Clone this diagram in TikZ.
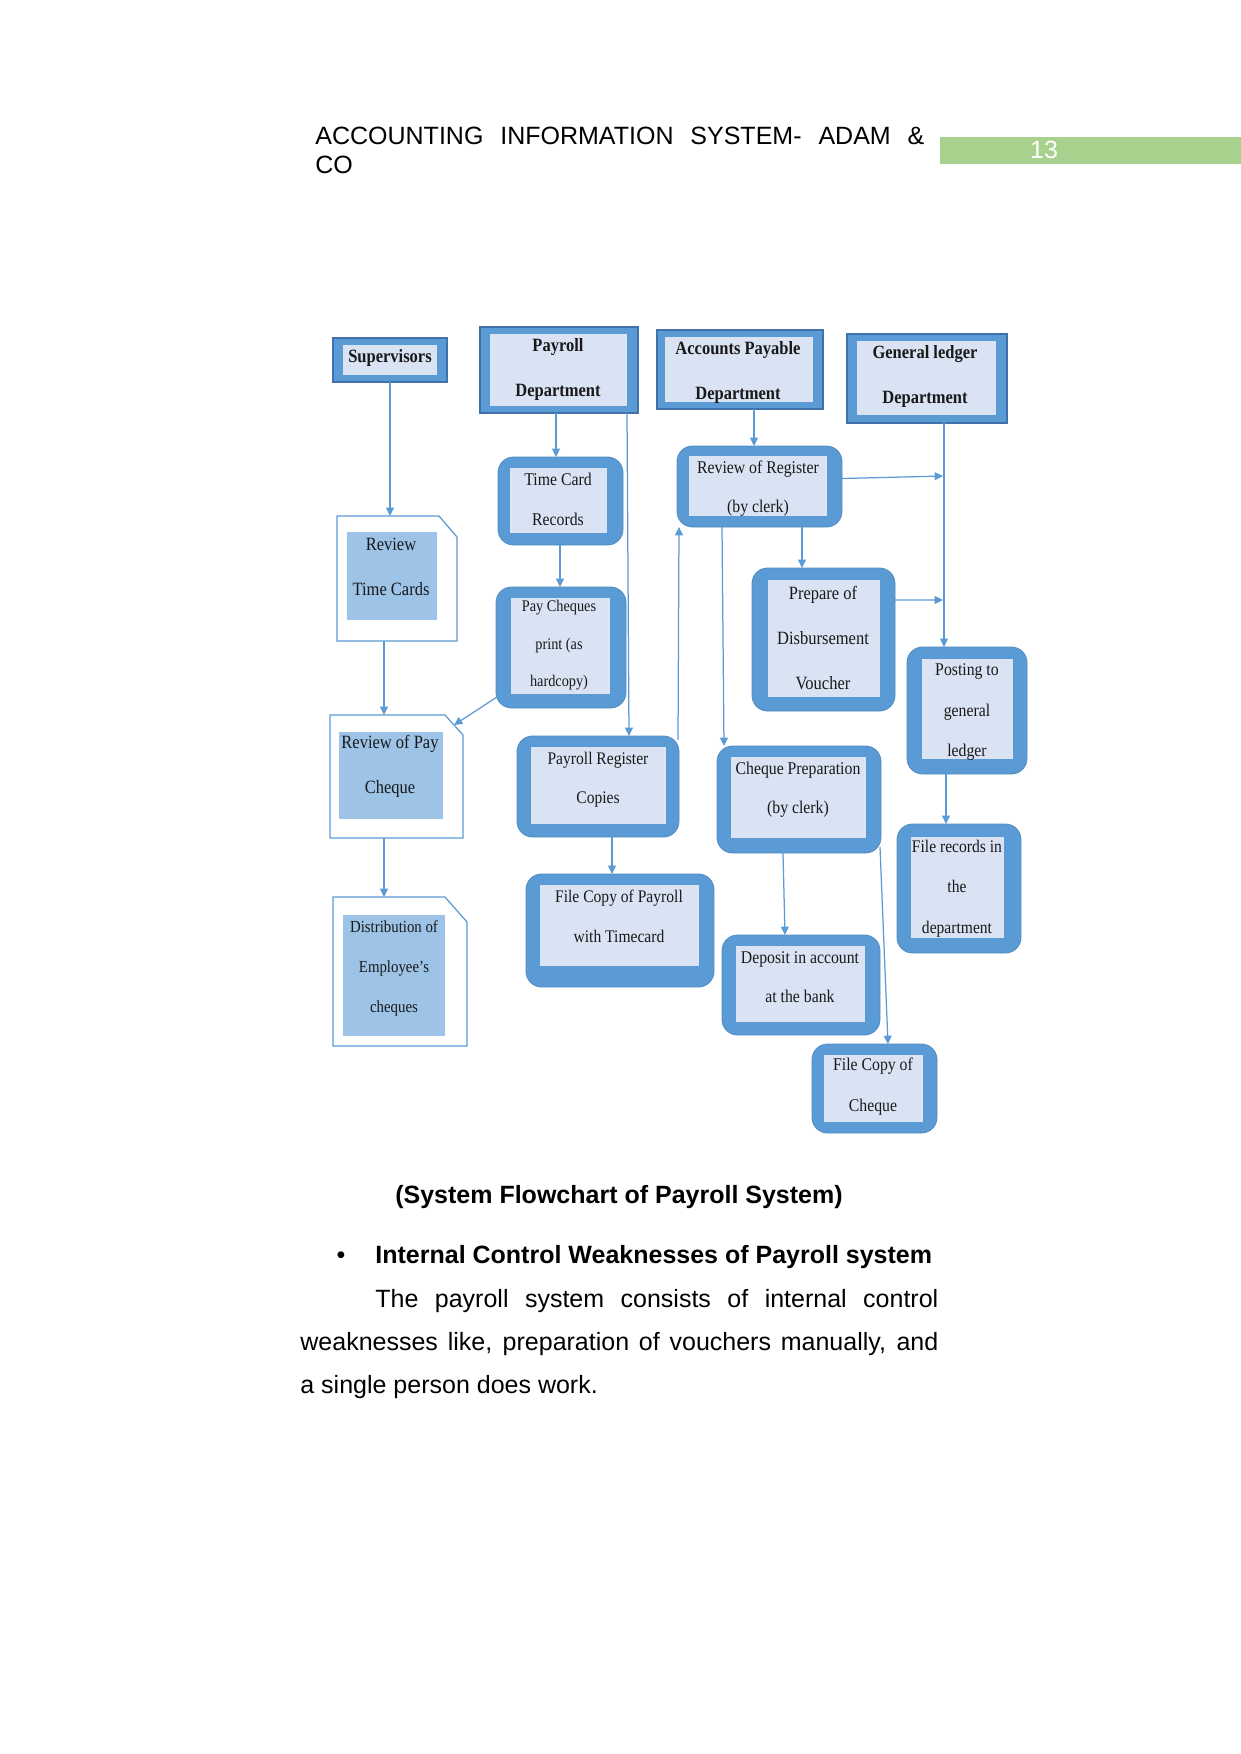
\documentclass[tikz,border=0pt]{standalone}
\usepackage{fontspec}
\setmainfont{Liberation Sans}
\newfontfamily\bxfont[FakeStretch=0.88]{Liberation Serif}
\usetikzlibrary{arrows.meta,calc}
\definecolor{bdr}{RGB}{91,155,213}
\definecolor{bdrdk}{RGB}{65,113,170}
\definecolor{innr}{RGB}{218,227,243}
\definecolor{docin}{RGB}{157,195,230}
\definecolor{hgreen}{RGB}{169,209,142}
\tikzset{
  sz/.style 2 args={minimum width=#1*0.48pt, minimum height=#2*0.48pt},
  ins/.style n args={4}{path picture={\fill[innr, sharp corners] ([xshift=#1*0.48pt,yshift=-#2*0.48pt]path picture bounding box.north west) rectangle ([xshift=-#3*0.48pt,yshift=#4*0.48pt]path picture bounding box.south east);}},
  dins/.style n args={4}{path picture={\fill[docin, sharp corners] ([xshift=#1*0.48pt,yshift=-#2*0.48pt]path picture bounding box.north west) rectangle ([xshift=-#3*0.48pt,yshift=#4*0.48pt]path picture bounding box.south east);}},
  sqbox/.style={rectangle, inner sep=0pt, outer sep=0pt, fill=bdr, draw=bdrdk, line width=0.5pt},
  rbox/.style={rectangle, rounded corners=7.5pt, inner sep=0pt, outer sep=0pt, fill=bdr, draw=bdr!90!black, line width=0.4pt},
  docbox/.style={rectangle, inner sep=0pt, outer sep=0pt, fill=white},
  docline/.style={draw=bdr, line width=0.6pt},
  tx/.style 2 args={align=center, inner sep=0pt, text=black!90, font={\bxfont\fontsize{#1}{#2}\selectfont}},
  txb/.style 2 args={align=center, inner sep=0pt, text=black!90, font={\bxfont\bfseries\fontsize{#1}{#2}\selectfont}},
  arr/.style={draw=bdr, line width=0.6pt, -{Triangle[length=4pt,width=3.8pt]}},
  body/.style={inner sep=0pt, font={\fontsize{12}{14}\selectfont}},
  bodyb/.style={inner sep=0pt, font={\fontsize{12}{14}\selectfont\bfseries}}
}
\begin{document}
\begin{tikzpicture}[x=0.48pt,y=-0.48pt]
\useasboundingbox (0,0) rectangle (1241,1754);

% header
\node[body, anchor=base west] (h1) at (315,144) {\makebox[292.3pt][s]{ACCOUNTING INFORMATION SYSTEM- ADAM \&}};
\node[body, anchor=base west] (h2) at (315,173) {CO};
\node[fill=hgreen, inner sep=0pt, anchor=north west, sz={301}{27}] (bar) at (940,136.5) {};
\node[body, text=white] (pnum) at (1044,150) {13};

% square header boxes
\node[sqbox, sz={114}{44}, ins={10}{7}{10}{7}] (sup) at (390,360) {};
\node[sqbox, sz={158}{86}, ins={10}{7}{11}{7}] (pay) at (559,370) {};
\node[sqbox, sz={166}{79}, ins={8}{7}{10}{7}] (ap) at (740,369.5) {};
\node[sqbox, sz={160}{89}, ins={10}{7}{11}{8}] (gl) at (927,378.5) {};

% rounded process boxes
\node[rbox, sz={125}{88}, ins={12}{11}{16}{12}] (tc) at (560.5,501) {};
\node[rbox, sz={130}{121}, ins={15}{11}{16}{14}] (pc) at (561,647.5) {};
\node[rbox, sz={165}{81}, ins={12}{10}{15}{11}] (rr) at (759.5,486.5) {};
\node[rbox, sz={143}{143}, ins={16}{12}{15}{14}] (dv) at (823.5,639.5) {};
\node[rbox, sz={162}{101}, ins={14}{11}{13}{13}] (pr) at (598,786.5) {};
\node[rbox, sz={164}{107}, ins={14}{11}{15}{15}] (cp) at (799,799.5) {};
\node[rbox, sz={120}{127}, ins={15}{12}{14}{15}] (pg) at (967,710.5) {};
\node[rbox, sz={124}{129}, ins={14}{13}{17}{15}] (fr) at (959,888.5) {};
\node[rbox, sz={188}{113}, ins={14}{11}{15}{21}] (fp) at (620,930.5) {};
\node[rbox, sz={158}{100}, ins={14}{11}{15}{13}] (dep) at (801,985) {};
\node[rbox, sz={125}{89}, ins={12}{11}{14}{11}] (fc) at (874.5,1088.5) {};

% document boxes
\node[docbox, sz={120}{125}, dins={10}{16}{20}{21}] (rtc) at (397,578.5) {};
\draw[docline] (rtc.south west) |- ($(rtc.north east)+(-18,0)$) -- ($(rtc.north east)+(0,21)$) -- (rtc.south east) -- cycle;
\node[docbox, sz={133}{123}, dins={9}{17}{20}{19}] (rpc) at (396.5,776.5) {};
\draw[docline] (rpc.south west) |- ($(rpc.north east)+(-18,0)$) -- ($(rpc.north east)+(0,20)$) -- (rpc.south east) -- cycle;
\node[docbox, sz={134}{149}, dins={10}{18}{22}{10}] (dist) at (400,971.5) {};
\draw[docline] (dist.south west) |- ($(dist.north east)+(-22,0)$) -- ($(dist.north east)+(0,25)$) -- (dist.south east) -- cycle;

% texts
\node[txb={9}{21.6}] (sup-t) at (390,358) {Supervisors};
\node[txb={9}{21.6}] (pay-t) at (558,369.5) {Payroll\\Department};
\node[txb={9}{21.6}] (ap-t) at (738,372) {Accounts Payable\\Department};
\node[txb={9}{21.6}] (gl-t) at (925,376) {General ledger\\Department};
\node[tx={8.6}{19.2}] (tc-t) at (558,499) {Time Card\\Records};
\node[tx={8.6}{18.7}] (rr-t) at (758,488.5) {Review of Register\\(by clerk)};
\node[tx={9}{21.6}] (rtc-t) at (391,567) {Review\\Time Cards};
\node[tx={7.8}{18}] (pc-t) at (559,645.5) {Pay Cheques\\print (as\\hardcopy)};
\node[tx={9}{21.6}] (dv-t) at (823,638.5) {Prepare of\\Disbursement\\Voucher};
\node[tx={8.6}{19.4}] (pg-t) at (967,712) {Posting to\\general\\ledger};
\node[tx={9}{21.6}] (rpc-t) at (390,766.5) {Review of Pay\\Cheque};
\node[tx={8.5}{18.7}] (pr-t) at (598,779.5) {Payroll Register\\Copies};
\node[tx={8.6}{18.7}] (cp-t) at (798,789.5) {Cheque Preparation\\(by clerk)};
\node[tx={8.5}{19.4}] (fr-t) at (957,888.5) {File records in\\the\\department};
\node[tx={8.1}{19.2}] (dist-t) at (394,968) {Distribution of\\Employee’s\\cheques};
\node[tx={8.5}{19}] (fp-t) at (619,916.5) {File Copy of Payroll\\with Timecard};
\node[tx={8.6}{18.7}] (dep-t) at (800,977) {Deposit in account\\at the bank};
\node[tx={8.6}{19.4}] (fc-t) at (873,1086.5) {File Copy of\\Cheque};

% junction points on the general ledger line
\coordinate (j1) at ($(gl.south west)+(96,53)$);
\coordinate (j2) at ($(gl.south west)+(96,177)$);

% connectors
\draw[arr] (sup.south) -- (sup.south |- rtc.north);
\draw[arr] ($(pay.south west)+(76,0)$) -- ($(tc.north west)+(58,0)$);
\draw[arr] ($(tc.south west)+(62,0)$) -- ($(pc.north west)+(64,0)$);
\draw[arr] ($(pc.south west)+(1,-11)$) -- ($(rpc.north east)+(-9,10)$);
\draw[arr] ($(pay.south east)+(-11,0)$) -- ($(pr.north west)+(112,0)$);
\draw[arr] ($(pr.north east)+(-1,4)$) -- ($(rr.south west)+(2,0)$);
\draw[arr] ($(rr.south west)+(45,0)$) -- ($(cp.north west)+(7,0)$);
\draw[arr] ($(ap.south west)+(97,0)$) -- ($(rr.north west)+(77,0)$);
\draw[arr] ($(rr.east)+(0,-8)$) -- (j1);
\draw[arr] ($(gl.south west)+(97,0)$) -- ($(pg.north west)+(37,0)$);
\draw[arr] ($(rr.south west)+(125,0)$) -- ($(dv.north west)+(50,0)$);
\draw[arr] ($(dv.north east)+(0,32)$) -- (j2);
\draw[arr] ($(pg.south west)+(39,0)$) -- ($(fr.north west)+(49,0)$);
\draw[arr] ($(rtc.south west)+(47,0)$) -- ($(rpc.north west)+(54,0)$);
\draw[arr] ($(rpc.south west)+(54,0)$) -- ($(dist.north west)+(51,0)$);
\draw[arr] ($(pr.south west)+(95,0)$) -- ($(fp.north west)+(86,0)$);
\draw[arr] ($(cp.south west)+(66,0)$) -- ($(dep.north west)+(63,0)$);
\draw[arr] ($(cp.south east)+(-1,-6)$) -- ($(fc.north west)+(76,0)$);

% caption and text
\node[bodyb, anchor=base] (cap) at (619,1203) {(System Flowchart of Payroll System)};
\node[body, anchor=base] (bul) at (341,1263) {•};
\node[bodyb, anchor=base west] (sec) at (375,1263) {Internal Control Weaknesses of Payroll system};
\node[body, anchor=base west] (p1) at (375,1307) {\makebox[270.2pt][s]{The payroll system consists of internal control}};
\node[body, anchor=base west] (p2) at (300,1350) {\makebox[306.2pt][s]{weaknesses like, preparation of vouchers manually, and}};
\node[body, anchor=base west] (p3) at (300,1393) {a single person does work.};
\end{tikzpicture}
\end{document}
